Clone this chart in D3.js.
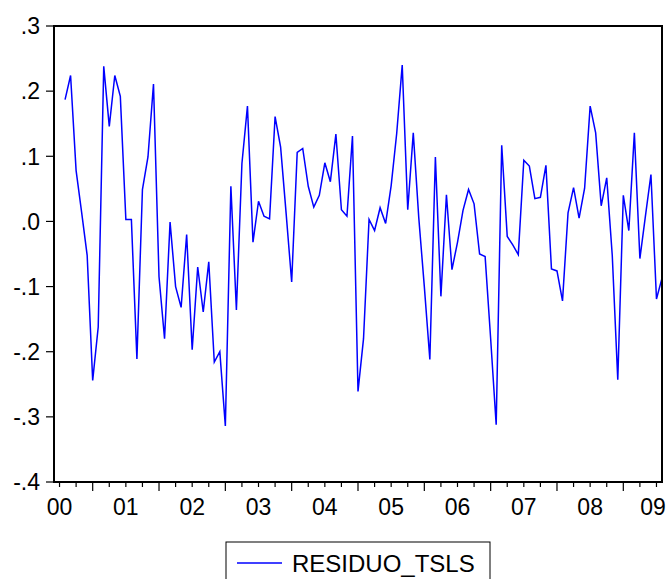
<!DOCTYPE html>
<html>
<head>
<meta charset="utf-8">
<script src="https://cdn.jsdelivr.net/npm/d3@7/dist/d3.min.js"></script>
<style>
  body { margin: 0; background: #fff; }
  svg { display: block; }
  text { font-family: Arial, "Liberation Sans", sans-serif; fill: #000; }
</style>
</head>
<body>
<svg id="chart" width="668" height="579"></svg>
<script>
// monthly residuals, 2000M08 .. 2009M08
const seriesName = "RESIDUO_TSLS";
const firstObs = { year: 2000, month: 8 };
const residuals = [
    0.187, 0.224, 0.078, 0.014, -0.052,                       // 2000
   -0.244, -0.162, 0.238, 0.146, 0.224, 0.192, 0.003, 0.003, -0.211, 0.049, 0.099, 0.211,   // 2001
   -0.085, -0.180, -0.001, -0.100, -0.132, -0.020, -0.197, -0.070, -0.139, -0.062, -0.216, -0.200, // 2002
   -0.314, 0.054, -0.136, 0.089, 0.177, -0.032, 0.031, 0.008, 0.004, 0.161, 0.114, 0.012,  // 2003
   -0.093, 0.106, 0.112, 0.054, 0.022, 0.040, 0.090, 0.061, 0.134, 0.018, 0.008, 0.131,    // 2004
   -0.261, -0.180, 0.003, -0.014, 0.021, -0.003, 0.055, 0.135, 0.240, 0.018, 0.136, 0.005, // 2005
   -0.100, -0.212, 0.099, -0.115, 0.041, -0.074, -0.032, 0.017, 0.049, 0.027, -0.050, -0.054, // 2006
   -0.180, -0.312, 0.117, -0.023, -0.036, -0.051, 0.094, 0.085, 0.035, 0.037, 0.086, -0.073, // 2007
   -0.076, -0.122, 0.013, 0.052, 0.005, 0.051, 0.177, 0.136, 0.024, 0.067, -0.052, -0.243,  // 2008
    0.040, -0.014, 0.136, -0.057, 0.008, 0.072, -0.119, -0.087                              // 2009
];
const yTicks = [0.3, 0.2, 0.1, 0.0, -0.1, -0.2, -0.3, -0.4];
const yTickLabels = [".3", ".2", ".1", ".0", "-.1", "-.2", "-.3", "-.4"];
const yearLabels = ["00", "01", "02", "03", "04", "05", "06", "07", "08", "09"];

const svg = d3.select("#chart");
const margin = { left: 54, right: 6, top: 26, bottom: 97 };
const width = +svg.attr("width"), height = +svg.attr("height");
const plotW = width - margin.left - margin.right,
      plotH = height - margin.top - margin.bottom;

// x in months counted from 2000M01 (0 = January 2000)
const startM = (firstObs.year - 2000) * 12 + firstObs.month - 1;
const data = residuals.map((v, i) => ({ m: startM + i, v: v }));

const x = d3.scaleLinear()
    .domain([startM - 2, startM + residuals.length - 1])
    .range([margin.left, margin.left + plotW]);
const y = d3.scaleLinear()
    .domain([-0.4, 0.3])
    .range([margin.top + plotH, margin.top]);

const fontSize = 23;

// y axis ticks + labels
const yAxis = svg.append("g");
yAxis.selectAll("line").data(yTicks).enter().append("line")
    .attr("x1", margin.left - 8).attr("x2", margin.left)
    .attr("y1", d => y(d)).attr("y2", d => y(d))
    .attr("stroke", "#000").attr("stroke-width", 1.2);
yAxis.selectAll("text").data(yTicks).enter().append("text")
    .attr("x", margin.left - 14)
    .attr("y", d => y(d))
    .attr("dy", "0.36em")
    .attr("text-anchor", "end")
    .style("font-size", fontSize + "px")
    .text((d, i) => yTickLabels[i]);

// x axis: quarterly minor ticks, yearly major ticks
const [m0, m1] = x.domain();
const quarters = d3.range(Math.ceil(m0 / 3) * 3, m1 + 0.01, 3);
const xAxis = svg.append("g");
xAxis.selectAll("line").data(quarters).enter().append("line")
    .attr("x1", d => x(d)).attr("x2", d => x(d))
    .attr("y1", margin.top + plotH)
    .attr("y2", d => margin.top + plotH + (d % 12 === 0 ? 9 : 5))
    .attr("stroke", "#000").attr("stroke-width", 1.2);
xAxis.selectAll("text").data(yearLabels).enter().append("text")
    .attr("x", (d, i) => Math.min(x(i * 12 + 6), width - 15))
    .attr("y", margin.top + plotH + 33)
    .attr("text-anchor", "middle")
    .style("font-size", fontSize + "px")
    .text(d => d);

// series
const line = d3.line()
    .x(d => x(d.m))
    .y(d => y(d.v));
svg.append("path")
    .datum(data)
    .attr("fill", "none")
    .attr("stroke", "#0000ff")
    .attr("stroke-width", 1.5)
    .attr("stroke-linejoin", "miter")
    .attr("d", line);

// frame
svg.append("rect")
    .attr("x", margin.left).attr("y", margin.top)
    .attr("width", plotW).attr("height", plotH)
    .attr("fill", "none").attr("stroke", "#000").attr("stroke-width", 2);

// legend
const lg = svg.append("g").attr("transform", "translate(226,542)");
lg.append("rect")
    .attr("x", 0).attr("y", 0).attr("width", 264).attr("height", 60)
    .attr("fill", "none").attr("stroke", "#000").attr("stroke-width", 1);
lg.append("line")
    .attr("x1", 11).attr("x2", 56).attr("y1", 21).attr("y2", 21)
    .attr("stroke", "#0000ff").attr("stroke-width", 1.4);
lg.append("text")
    .attr("x", 66).attr("y", 21).attr("dy", "0.36em")
    .style("font-size", "24px")
    .text(seriesName);
</script>
</body>
</html>
